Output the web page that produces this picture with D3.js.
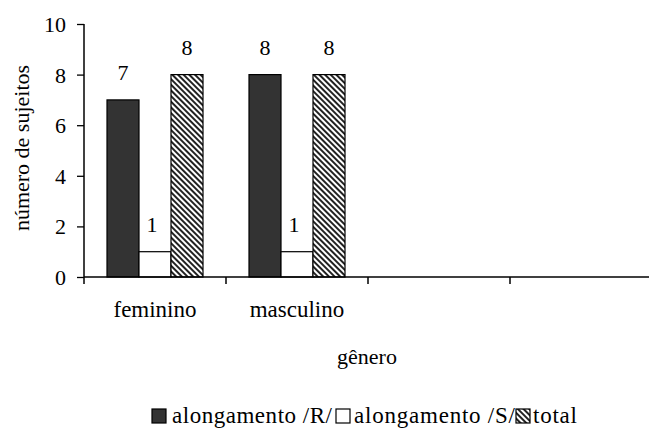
<!DOCTYPE html>
<html>
<head>
<meta charset="utf-8">
<script src="https://cdn.jsdelivr.net/npm/d3@7"></script>
</head>
<body style="margin:0;background:#fff;font-family:'Liberation Serif',serif">
<svg id="chart" width="649" height="429" style="display:block;font-family:'Liberation Serif',serif" font-family="Liberation Serif"></svg>
<script>
const categories = ["feminino", "masculino", "", " "];
const seriesNames = ["alongamento /R/", "alongamento /S/", "total"];
const valuesR = [7, 8];
const valuesS = [1, 1];
const valuesTotal = [8, 8];
const yTicks = [0, 2, 4, 6, 8, 10];

const FONT = "Liberation Serif";
const svg = d3.select("#chart");

function txt(sel) {
  return sel.attr("font-family", FONT).style("font-family", "'Liberation Serif', serif").attr("fill", "#000");
}

const defs = svg.append("defs");
const pat = defs.append("pattern")
  .attr("id", "hatch").attr("patternUnits", "userSpaceOnUse")
  .attr("width", 4).attr("height", 4)
  .attr("patternTransform", "rotate(-45)");
pat.append("rect").attr("width", 4).attr("height", 4).attr("fill", "#fff");
pat.append("rect").attr("x", 0).attr("y", 0).attr("width", 2).attr("height", 4).attr("fill", "#222");

const x = d3.scaleBand().domain(categories).range([84, 652]).paddingInner(0).paddingOuter(0);
const y = d3.scaleLinear().domain([0, 10]).range([277, 24]);
const sub = d3.scaleBand().domain(seriesNames).range([0, 96]);
const groupOffset = (x.bandwidth() - 96) / 2;

const fills = ["#333333", "#ffffff", "url(#hatch)"];
const seriesVals = [valuesR, valuesS, valuesTotal];

seriesNames.forEach((s, si) => {
  const g = svg.append("g");
  seriesVals[si].forEach((v, ci) => {
    const cx = x(categories[ci]) + groupOffset + sub(s);
    g.append("rect")
      .attr("x", cx).attr("y", y(v))
      .attr("width", sub.bandwidth()).attr("height", y(0) - y(v))
      .attr("fill", fills[si]).attr("stroke", "#000").attr("stroke-width", 1.2);
    txt(g.append("text"))
      .attr("x", cx + sub.bandwidth() / 2 - (si === 1 ? 3 : 0))
      .attr("y", y(v) - 20)
      .attr("text-anchor", "middle")
      .attr("font-size", 22)
      .text(v);
  });
});

// Y axis
const yAxis = d3.axisLeft(y).tickValues(yTicks).tickSize(7).tickPadding(11).tickFormat(d3.format("d"));
const gy = svg.append("g").attr("transform", "translate(84,0)").call(yAxis);
gy.attr("font-family", FONT).attr("font-size", 22);
gy.select(".domain").attr("stroke", "#000").attr("stroke-width", 1.5).attr("d", "M0,24V277");
gy.selectAll(".tick line").attr("stroke-width", 1.3);
txt(gy.selectAll(".tick text")).attr("dy", "0.34em");

// X axis
const gx = svg.append("g").attr("transform", "translate(0,277)");
gx.append("line").attr("x1", 84).attr("x2", 649).attr("y1", 0).attr("y2", 0).attr("stroke", "#000").attr("stroke-width", 1.5);
categories.forEach(c => {
  gx.append("line").attr("x1", x(c)).attr("x2", x(c)).attr("y1", 0).attr("y2", 7)
    .attr("stroke", "#000").attr("stroke-width", 1.5);
});
categories.forEach(c => {
  if (c.trim() === "") return;
  txt(gx.append("text")).attr("x", x(c) + x.bandwidth() / 2).attr("y", 40)
    .attr("text-anchor", "middle").attr("font-size", 23).text(c);
});

// Titles
txt(svg.append("text")).attr("x", 367).attr("y", 364).attr("text-anchor", "middle")
  .attr("font-size", 22).text("gênero");
txt(svg.append("text")).attr("transform", "translate(29,148) rotate(-90)").attr("text-anchor", "middle")
  .attr("font-size", 22).text("número de sujeitos");

// Legend
const legend = [
  { x: 152, fill: "#333333", tx: 172, tw: 160 },
  { x: 336, fill: "#ffffff", tx: 354, tw: 161 },
  { x: 516, fill: "url(#hatch)", tx: 533, tw: 44 }
];
legend.forEach((l, i) => {
  svg.append("rect").attr("x", l.x).attr("y", 409).attr("width", 14).attr("height", 14)
    .attr("fill", l.fill).attr("stroke", "#000").attr("stroke-width", 1.2);
  txt(svg.append("text")).attr("x", l.tx).attr("y", 423).attr("font-size", 23)
    .attr("textLength", l.tw).attr("lengthAdjust", "spacing").text(seriesNames[i]);
});
</script>
</body>
</html>
